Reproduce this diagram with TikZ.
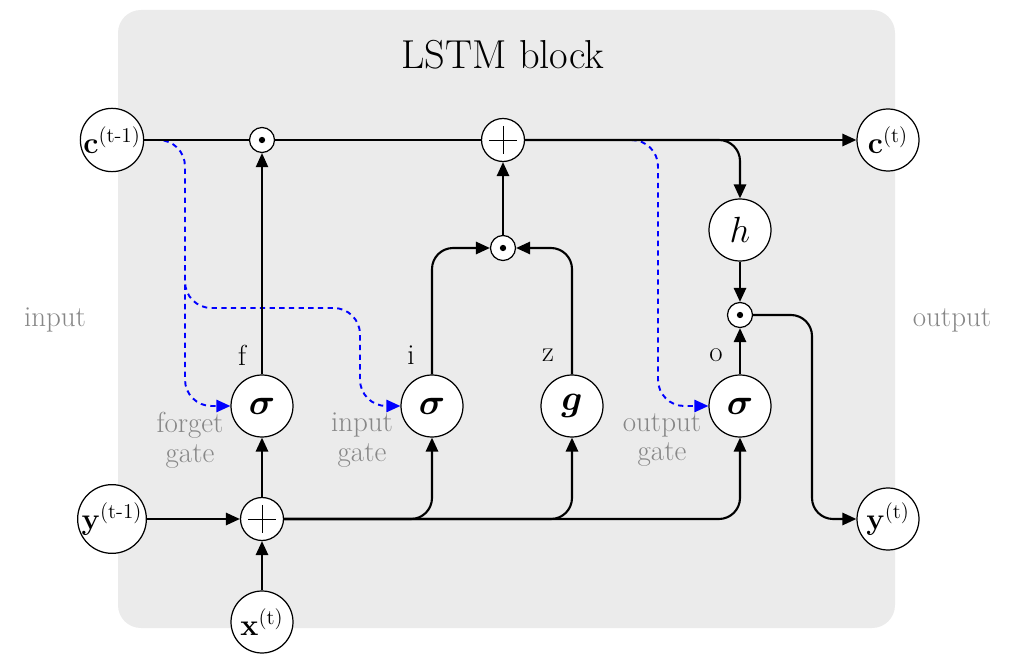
\documentclass[tikz,border=0pt]{standalone}
\usepackage{amsmath,bm}
\usetikzlibrary{positioning,arrows.meta,calc}
\definecolor{blockgray}{RGB}{235,235,235}
\definecolor{labelgray}{RGB}{135,135,135}
\tikzset{
  unit/.style={draw,fill=white,circle,line width=0.7pt,
               minimum size=1.24cm,inner sep=0pt,font=\LARGE},
  gate/.style={unit,font=\huge},
  prodnode/.style={draw,fill=white,circle,line width=0.7pt,
               minimum size=0.5cm,inner sep=0pt,
               path picture={\fill[black] (path picture bounding box.center) circle (1.8pt);}},
  sumnode/.style={draw,fill=white,circle,line width=0.7pt,
               minimum size=0.86cm,inner sep=0pt,
               path picture={\draw[black,line width=0.5pt]
                 ([yshift=8pt]path picture bounding box.center) -- ([yshift=-8pt]path picture bounding box.center)
                 ([xshift=-8pt]path picture bounding box.center) -- ([xshift=8pt]path picture bounding box.center);}},
  wire/.style={line width=1.2pt},
  arr/.style={wire,-{Triangle[length=8pt,width=7pt]}},
  peep/.style={-{Triangle[length=8pt,width=7pt]},blue,line width=1.1pt,
               dash pattern=on 3pt off 2.5pt,rounded corners=15pt},
  lbl/.style={font=\fontsize{16.5}{17}\selectfont},
  side/.style={lbl,text=labelgray,align=center},
}

\begin{document}
\begin{tikzpicture}[x=0.02cm,y=-0.02cm]
  \useasboundingbox (0,0) rectangle (1025,655);
  \fill[blockgray,rounded corners=13pt] (118,10) rectangle (895,628);
  \node[font=\fontsize{23}{27}\selectfont] (title) at (503,55) {LSTM block};

  % outer units
  \node[unit] (cprev) at (112,140) {$\mathbf{c}^{\text{(t-1)}}$};
  \node[unit] (cnext) at (888,140) {$\mathbf{c}^{\text{(t)}}$};
  \node[unit] (yprev) at (112,519) {$\mathbf{y}^{\text{(t-1)}}$};
  \node[unit] (ynext) at (888,519) {$\mathbf{y}^{\text{(t)}}$};
  \node[unit] (xt) at (262,622) {$\mathbf{x}^{\text{(t)}}$};
  \node[side] (inlbl) at (55,320) {input};
  \node[side] (outlbl) at (952,320) {output};

  % operations
  \node[prodnode] (fmul) at (262,140) {};
  \node[sumnode] (csum) at (503,140) {};
  \node[prodnode] (imul) at (503,248) {};
  \node[sumnode] (insum) at (262,519) {};
  \node[prodnode] (omul) at (740,315) {};

  % gates
  \node[gate] (sigf) at (262,406) {$\boldsymbol{\sigma}$};
  \node[gate] (sigi) at (432,406) {$\boldsymbol{\sigma}$};
  \node[gate] (gz) at (572,406) {$\boldsymbol{g}$};
  \node[gate] (sigo) at (740,406) {$\boldsymbol{\sigma}$};
  \node[gate] (hout) at (740,230) {$h$};
  \node[lbl] (flbl) at (242,355) {f};
  \node[lbl] (ilbl) at (411,355) {i};
  \node[lbl] (zlbl) at (548,355) {z};
  \node[lbl] (olbl) at (716,355) {o};
  \node[side] (fgate) at (190,440) {forget\\gate};
  \node[side] (igate) at (362,440) {input\\gate};
  \node[side] (ogate) at (662,440) {output\\gate};

  % peepholes
  \coordinate (pfork) at (185,308);
  \coordinate (pbranch) at (185,275);
  \coordinate (pturn) at (360,308);
  \coordinate (pout) at (658,300);
  \draw[peep] (cprev.east) -| (pfork) -- (pturn) |- (sigi.west);
  \draw[peep] (pbranch) |- (sigf.west);
  \draw[peep] (csum.east) -| (pout) |- (sigo.west);

  % cell line
  \draw[wire] (cprev) -- (fmul);
  \draw[wire] (fmul) -- (csum);
  \draw[arr] (csum) -- (cnext);
  \draw[arr,rounded corners=12pt] (csum) -| (hout);
  \draw[arr] (hout) -- (omul);

  % input side
  \draw[arr] (yprev) -- (insum);
  \draw[arr] (xt) -- (insum);
  \draw[arr] (insum) -- (sigf);
  \draw[arr,rounded corners=12pt] (insum) -| (sigi);
  \draw[arr,rounded corners=12pt] (insum) -| (gz);
  \draw[arr,rounded corners=12pt] (insum) -| (sigo);

  % gates to products
  \draw[arr,line width=0.8pt] (sigf) -- (fmul);
  \draw[arr,rounded corners=12pt] (sigi) |- (imul);
  \draw[arr,rounded corners=12pt] (gz) |- (imul);
  \draw[arr] (imul) -- (csum);
  \draw[arr] (sigo) -- (omul);

  % output
  \coordinate (obend) at (812,430);
  \draw[arr,rounded corners=12pt] (omul) -| (obend) |- (ynext);
\end{tikzpicture}
\end{document}
